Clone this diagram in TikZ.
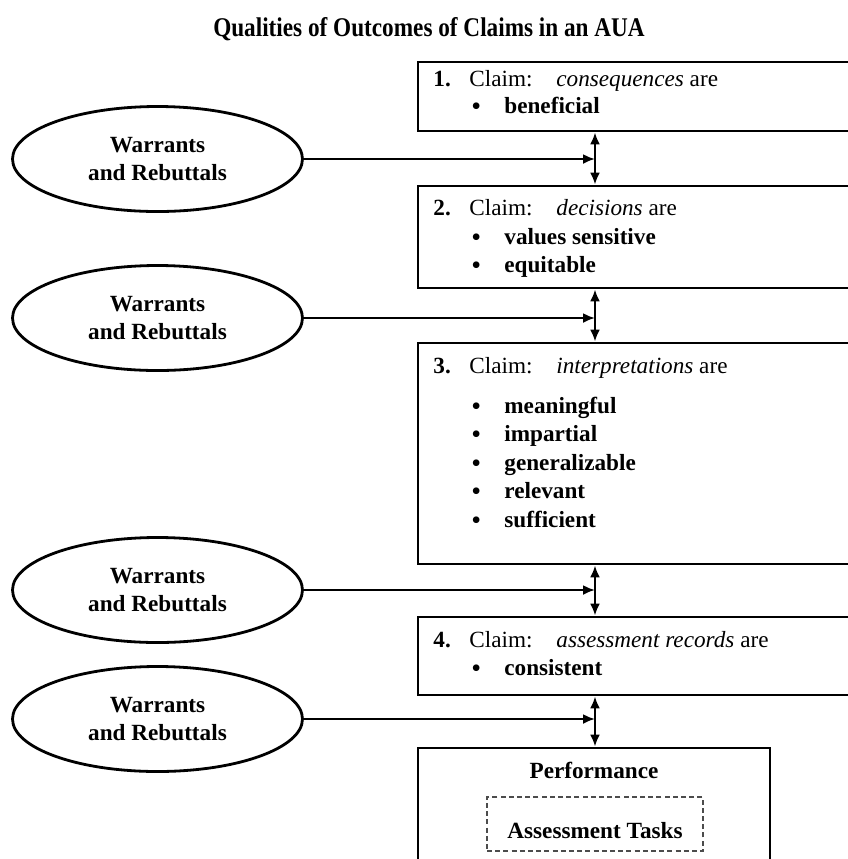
\documentclass[tikz,border=0pt]{standalone}
\usepackage{fontspec}
\setmainfont{Liberation Serif}
\usetikzlibrary{arrows.meta,shapes.geometric,fit}

\newcommand{\bodysize}{\fontsize{11.6}{14}\selectfont}
\newcommand{\bigdot}{\smash{\raisebox{-1.2pt}{\fontsize{14}{14}\selectfont\textbullet}}}

\tikzset{
  claimbox/.style={draw, line width=1.4pt, inner sep=0pt},
  taskbox/.style={draw=black!70, line width=0.7pt, inner sep=0pt, dash pattern=on 2.5pt off 1.6pt},
  wrnode/.style={draw, ellipse, line width=1.4pt, minimum width=145pt, minimum height=52.5pt,
    inner sep=0pt, align=center, font=\bodysize\bfseries},
  txt/.style={anchor=base west, inner sep=0pt, font=\bodysize},
  link/.style={line width=1.1pt, -{Latex[length=6pt,width=5pt]}},
  dlink/.style={line width=1.1pt, {Latex[length=6pt,width=5pt]}-{Latex[length=6pt,width=5pt]}},
}

\begin{document}
\begin{tikzpicture}[x=0.5pt, y=-0.5pt]
    \useasboundingbox (0,0) rectangle (848,859);
    \clip (0,0) rectangle (848,859);

    % Title
    \node[anchor=base, font=\fontsize{13.5}{14}\selectfont\bfseries] (title) at (429,36)
        {\scalebox{0.86}[1]{Qualities of Outcomes of Claims in an AUA}};

    % Claim boxes
    \node[claimbox, fit={(418,62) (900,131)}] (claim1) {};
    \node[claimbox, fit={(418,186) (900,288)}] (claim2) {};
    \node[claimbox, fit={(418,343) (900,564)}] (claim3) {};
    \node[claimbox, fit={(418,617) (900,695)}] (claim4) {};
    \node[claimbox, fit={(418,748) (770,900)}] (perf) {};
    \node[taskbox, fit={(487,797) (703,851)}] (tasks) {};

    % Claim 1
    \node[txt] (num1) at (433,86) {\textbf{1.}};
    \node[txt] (lab1) at (469,86) {Claim:};
    \node[txt] (obj1) at (556,86) {\textit{consequences} are};
    \node[txt] (dot1) at (471,113) {\bigdot};
    \node[txt] (q1) at (504,113) {\textbf{beneficial}};

    % Claim 2
    \node[txt] (num2) at (433,215) {\textbf{2.}};
    \node[txt] (lab2) at (469,215) {Claim:};
    \node[txt] (obj2) at (556,215) {\textit{decisions} are};
    \node[txt] (dot2a) at (471,244) {\bigdot};
    \node[txt] (q2a) at (504,244) {\textbf{values sensitive}};
    \node[txt] (dot2b) at (471,272) {\bigdot};
    \node[txt] (q2b) at (504,272) {\textbf{equitable}};

    % Claim 3
    \node[txt] (num3) at (433,373) {\textbf{3.}};
    \node[txt] (lab3) at (469,373) {Claim:};
    \node[txt] (obj3) at (556,373) {\textit{interpretations} are};
    \foreach \q [count=\i from 0] in {meaningful, impartial, generalizable, relevant, sufficient} {
        \node[txt] (dot3-\i) at (471,413+28.5*\i) {\bigdot};
        \node[txt] (q3-\i) at (504,413+28.5*\i) {\textbf{\q}};
    }

    % Claim 4
    \node[txt] (num4) at (433,647) {\textbf{4.}};
    \node[txt] (lab4) at (469,647) {Claim:};
    \node[txt] (obj4) at (556,647) {\textit{assessment records} are};
    \node[txt] (dot4) at (471,675) {\bigdot};
    \node[txt] (q4) at (504,675) {\textbf{consistent}};

    % Performance
    \node[anchor=base, inner sep=0pt, font=\bodysize\bfseries] (perflab) at (594,778) {Performance};
    \node[anchor=base, inner sep=0pt, font=\bodysize\bfseries] (tasklab) at (595,838) {Assessment Tasks};

    % Warrants and rebuttals
    \node[wrnode] (wr1) at (157.5,159) {Warrants\\and Rebuttals};
    \node[wrnode] (wr2) at (157.5,318) {Warrants\\and Rebuttals};
    \node[wrnode] (wr3) at (157.5,590) {Warrants\\and Rebuttals};
    \node[wrnode] (wr4) at (157.5,719) {Warrants\\and Rebuttals};

    % Arrows
    \coordinate (ax) at (595,0);
    \draw[dlink] (claim1.south -| ax) -- (claim2.north -| ax);
    \draw[dlink] (claim2.south -| ax) -- (claim3.north -| ax);
    \draw[dlink] (claim3.south -| ax) -- (claim4.north -| ax);
    \draw[dlink] (claim4.south -| ax) -- (perf.north -| ax);
    \draw[link] (wr1.east) -- (wr1.east -| ax);
    \draw[link] (wr2.east) -- (wr2.east -| ax);
    \draw[link] (wr3.east) -- (wr3.east -| ax);
    \draw[link] (wr4.east) -- (wr4.east -| ax);
\end{tikzpicture}
\end{document}
